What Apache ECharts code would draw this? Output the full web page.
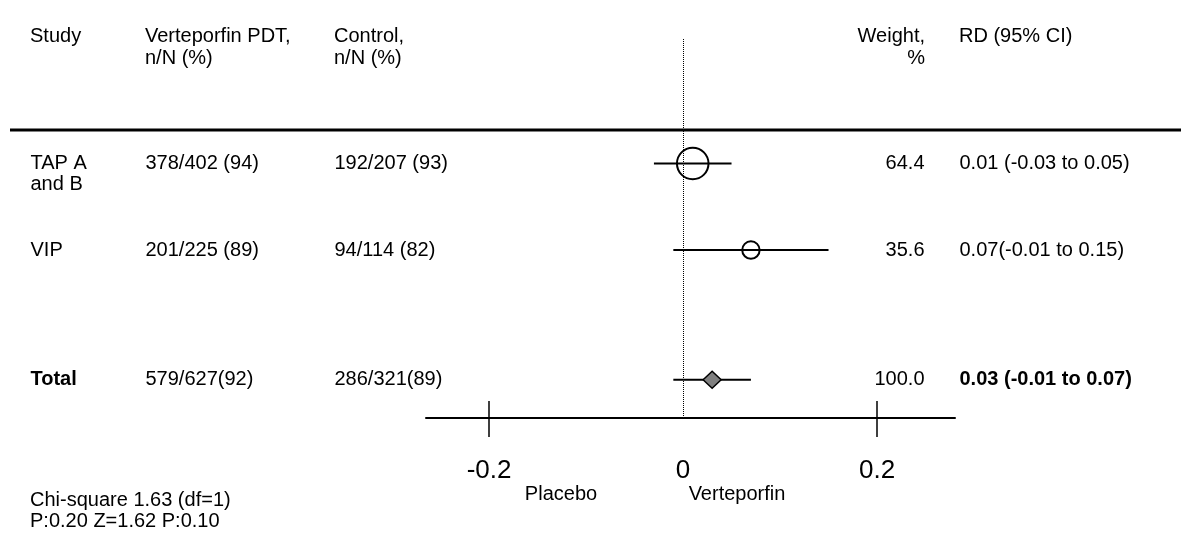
<!DOCTYPE html>
<html><head><meta charset="utf-8">
<script src="https://cdn.jsdelivr.net/npm/echarts@6/dist/echarts.min.js"></script>
<style>html,body{margin:0;padding:0;background:#fff}#c{width:1181px;height:543px}</style>
</head><body><div id="c"></div>
<script>
// ---- data ----
const studies = ['TAP A\nand B', 'VIP', 'Total'];
const pdtCounts = ['378/402 (94)', '201/225 (89)', '579/627(92)'];
const controlCounts = ['192/207 (93)', '94/114 (82)', '286/321(89)'];
const weights = [64.4, 35.6, 100.0];
const weightLabels = ['64.4', '35.6', '100.0'];
const rd = [0.01, 0.07, 0.03];
const ciLow = [-0.03, -0.01, -0.01];
const ciHigh = [0.05, 0.15, 0.07];
const rdLabels = ['0.01 (-0.03 to 0.05)', '0.07(-0.01 to 0.15)', '0.03 (-0.01 to 0.07)'];
const tickValues = [-0.2, 0.2];
const tickLabelValues = [-0.2, 0, 0.2];
const headers = ['Study', 'Verteporfin PDT,\nn/N (%)', 'Control,\nn/N (%)', 'Weight,\n%', 'RD (95% CI)'];
const footnote = 'Chi-square 1.63 (df=1)\nP:0.20 Z=1.62 P:0.10';
const sideLabels = ['Placebo', 'Verteporfin'];

// ---- layout ----
const FONT = "'Liberation Sans', Arial, sans-serif";
const FS = 20;
const LH = 21;
const rowSlots = [3, 5, 8];
const yMin = 0.1908, yMax = 8.884;
const colX = {study: 30, pdt: 145, ctl: 334, weight: 925, rd: 959};

const chart = echarts.init(document.getElementById('c'), null, {renderer: 'canvas'});

function textSeries(x, texts, alignLeft, boldLast) {
  return {
    type: 'scatter', xAxisIndex: 2, yAxisIndex: 1, symbolSize: 1, silent: true, clip: false,
    itemStyle: {color: 'rgba(0,0,0,0)'},
    data: texts.map((t, i) => ({
      value: [x, rowSlots[i]],
      label: {
        color: '#000',
        fontWeight: (boldLast && i === texts.length - 1) ? 'bold' : 'normal',
        offset: [0, (String(t).split('\n').length - 1) * LH / 2]
      }
    })),
    label: {
      show: true, formatter: p => texts[p.dataIndex],
      position: alignLeft ? 'right' : 'left', distance: 0,
      color: '#000', opacity: 1, textBorderWidth: 0,
      fontSize: FS, fontFamily: FONT, lineHeight: LH
    }
  };
}

function txt(text, x, yCenter, align, lh) {
  const L = lh || LH;
  return {type: 'text', silent: true, style: {text, x, y: yCenter - L / 2, font: FS + 'px ' + FONT, fill: '#000',
    lineHeight: L, verticalAlign: 'top', align: align || 'left'}};
}

const option = {
  backgroundColor: '#fff',
  animation: false,
  grid: [
    {left: 426, right: 226, top: 39, bottom: 125},
    {left: 0, right: 0, top: 42, bottom: 125}
  ],
  xAxis: [
    {
      type: 'value', gridIndex: 0, min: -0.265, max: 0.2804, position: 'bottom',
      splitLine: {show: false},
      axisLine: {show: true, lineStyle: {color: '#000', width: 2}},
      axisTick: {show: true, inside: false, length: 19, customValues: tickValues, lineStyle: {color: '#000', width: 1.5}},
      axisLabel: {show: true, customValues: tickLabelValues, margin: 40, fontSize: 26, color: '#000', fontFamily: FONT,
        formatter: v => (v === 0 ? '0' : String(v))}
    },
    {
      type: 'value', gridIndex: 0, min: -0.265, max: 0.2804, position: 'bottom',
      splitLine: {show: false}, axisLine: {show: false}, axisLabel: {show: false},
      axisTick: {show: true, inside: true, length: 17, customValues: tickValues, lineStyle: {color: '#000', width: 1.5}}
    },
    {type: 'value', gridIndex: 1, min: 0, max: 1181, show: false}
  ],
  yAxis: [
    {type: 'value', gridIndex: 0, min: yMin - 3 / 43.25, max: yMax, inverse: true, show: false},
    {type: 'value', gridIndex: 1, min: yMin, max: yMax, inverse: true, show: false}
  ],
  graphic: [
    {type: 'line', silent: true, shape: {x1: 10, y1: 130, x2: 1181, y2: 130}, style: {stroke: '#000', lineWidth: 3}},
    txt(headers[0], colX.study, 36, 'left', 22),
    txt(headers[1], colX.pdt, 36, 'left', 22),
    txt(headers[2], colX.ctl, 36, 'left', 22),
    txt(headers[3], colX.weight, 36, 'right', 22),
    txt(headers[4], colX.rd, 36, 'left', 22),
    txt(footnote, colX.study, 500, 'left', 21),
    txt(sideLabels[0], 561, 494, 'center'),
    txt(sideLabels[1], 737, 494, 'center')
  ],
  series: [
    {
      type: 'custom', xAxisIndex: 0, yAxisIndex: 0, silent: true, clip: false,
      data: rd.map((v, i) => [v, ciLow[i], ciHigh[i], rowSlots[i], weights[i], i === rd.length - 1 ? 1 : 0]),
      renderItem(params, api) {
        const y = api.value(3);
        const c = api.coord([api.value(0), y]);
        const lo = api.coord([api.value(1), y]);
        const hi = api.coord([api.value(2), y]);
        const children = [{
          type: 'line', shape: {x1: lo[0], y1: c[1], x2: hi[0], y2: c[1]},
          style: {stroke: '#000', lineWidth: 1.8}
        }];
        if (api.value(5) === 1) {
          const w = 9, h = 8.5;
          children.push({type: 'polygon', shape: {points: [[c[0] - w, c[1]], [c[0], c[1] - h], [c[0] + w, c[1]], [c[0], c[1] + h]]},
            style: {fill: '#808080', stroke: '#000', lineWidth: 1.5}});
        } else {
          const r = api.value(4) * 0.245;
          children.push({type: 'circle', shape: {cx: c[0], cy: c[1], r: r}, style: {fill: 'none', stroke: '#000', lineWidth: 2}});
        }
        return {type: 'group', children};
      },
      markLine: {
        silent: true, symbol: 'none', label: {show: false},
        lineStyle: {type: 'dotted', color: '#000', width: 1},
        data: [{xAxis: 0}]
      }
    },
    textSeries(colX.study, studies, true, true),
    textSeries(colX.pdt, pdtCounts, true, false),
    textSeries(colX.ctl, controlCounts, true, false),
    textSeries(colX.weight, weightLabels, false, false),
    textSeries(colX.rd, rdLabels, true, true)
  ]
};
chart.setOption(option);
</script>
</body></html>
